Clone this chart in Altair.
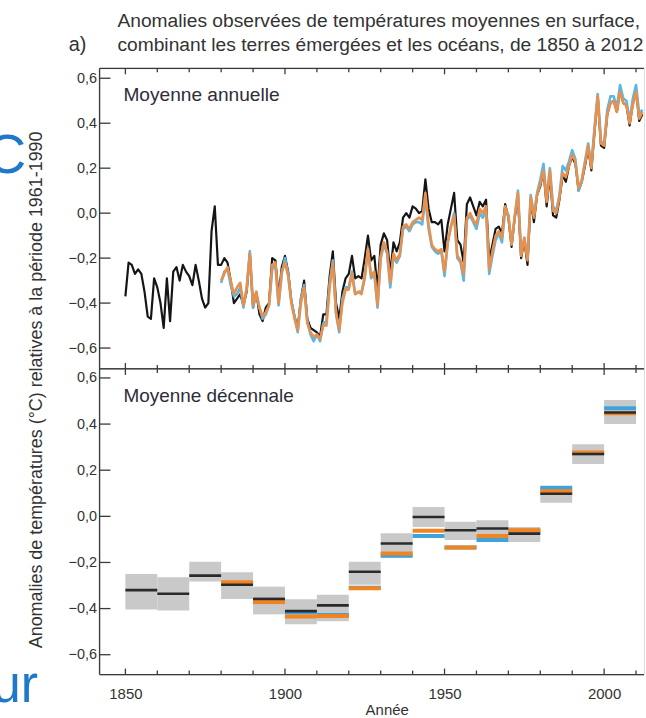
import altair as alt
import pandas as pd

# ---- annual global mean surface temperature anomalies (°C, relative to 1961-1990) ----
years = list(range(1850, 2013))
hadcrut4 = [
    -0.37, -0.22, -0.23, -0.27, -0.25, -0.27, -0.35, -0.46, -0.47, -0.29,
    -0.33, -0.40, -0.51, -0.29, -0.48, -0.26, -0.24, -0.30, -0.23, -0.26,
    -0.28, -0.32, -0.23, -0.30, -0.38, -0.42, -0.40, -0.08, 0.03, -0.23,
    -0.23, -0.20, -0.22, -0.30, -0.40, -0.38, -0.36, -0.41, -0.35, -0.18,
    -0.42, -0.35, -0.45, -0.48, -0.42, -0.40, -0.20, -0.21, -0.37, -0.24,
    -0.19, -0.26, -0.39, -0.46, -0.51, -0.38, -0.30, -0.47, -0.51, -0.52,
    -0.53, -0.55, -0.45, -0.45, -0.28, -0.17, -0.40, -0.47, -0.35, -0.29,
    -0.27, -0.19, -0.29, -0.28, -0.29, -0.20, -0.10, -0.21, -0.19, -0.34,
    -0.14, -0.09, -0.12, -0.27, -0.13, -0.17, -0.13, -0.02, 0.00, -0.02,
    0.03, 0.02, 0.00, 0.01, 0.15, 0.02, -0.04, -0.04, -0.05, -0.03,
    -0.17, -0.05, 0.02, 0.09, -0.12, -0.14, -0.22, 0.04, 0.07, 0.03,
    -0.01, 0.05, 0.03, 0.06, -0.21, -0.14, -0.07, -0.06, -0.09, 0.04,
    -0.02, -0.15, -0.02, 0.07, -0.20, -0.12, -0.23, 0.06, -0.04, 0.08,
    0.12, 0.19, 0.03, 0.17, -0.01, -0.02, 0.06, 0.17, 0.14, 0.21,
    0.25, 0.22, 0.10, 0.14, 0.21, 0.29, 0.19, 0.36, 0.52, 0.30,
    0.29, 0.44, 0.49, 0.50, 0.45, 0.55, 0.49, 0.48, 0.39, 0.49,
    0.55, 0.41, 0.44,
]

years_1880 = list(range(1880, 2013))
mlost = [
    -0.30, -0.27, -0.24, -0.30, -0.36, -0.33, -0.31, -0.41, -0.34, -0.18,
    -0.41, -0.35, -0.42, -0.46, -0.44, -0.41, -0.23, -0.22, -0.40, -0.26,
    -0.22, -0.28, -0.40, -0.47, -0.52, -0.40, -0.33, -0.49, -0.53, -0.55,
    -0.54, -0.56, -0.50, -0.50, -0.33, -0.22, -0.44, -0.52, -0.40, -0.34,
    -0.34, -0.27, -0.36, -0.35, -0.36, -0.28, -0.16, -0.28, -0.26, -0.41,
    -0.19, -0.13, -0.17, -0.31, -0.18, -0.21, -0.18, -0.06, -0.05, -0.07,
    -0.04, -0.03, -0.02, -0.03, 0.09, -0.05, -0.14, -0.16, -0.17, -0.16,
    -0.26, -0.13, -0.06, -0.01, -0.19, -0.21, -0.27, -0.02, 0.00, -0.03,
    -0.05, 0.02, 0.00, 0.03, -0.25, -0.17, -0.10, -0.08, -0.11, 0.03,
    -0.01, -0.14, -0.01, 0.09, -0.19, -0.11, -0.21, 0.07, -0.02, 0.08,
    0.13, 0.19, 0.05, 0.19, 0.01, 0.00, 0.07, 0.18, 0.16, 0.21,
    0.26, 0.23, 0.11, 0.15, 0.22, 0.30, 0.20, 0.37, 0.52, 0.31,
    0.30, 0.44, 0.49, 0.50, 0.45, 0.54, 0.49, 0.48, 0.40, 0.48,
    0.54, 0.42, 0.45,
]
gistemp = [
    -0.31, -0.26, -0.25, -0.32, -0.37, -0.36, -0.33, -0.42, -0.33, -0.17,
    -0.42, -0.36, -0.42, -0.47, -0.45, -0.41, -0.25, -0.23, -0.41, -0.27,
    -0.20, -0.27, -0.39, -0.46, -0.53, -0.38, -0.32, -0.48, -0.54, -0.57,
    -0.54, -0.57, -0.49, -0.48, -0.31, -0.21, -0.45, -0.53, -0.38, -0.33,
    -0.33, -0.26, -0.36, -0.35, -0.35, -0.29, -0.16, -0.29, -0.27, -0.42,
    -0.20, -0.14, -0.18, -0.33, -0.19, -0.22, -0.19, -0.07, -0.06, -0.08,
    -0.05, -0.04, -0.04, -0.05, 0.07, -0.07, -0.15, -0.17, -0.18, -0.17,
    -0.28, -0.13, -0.06, 0.00, -0.20, -0.22, -0.30, -0.03, -0.01, -0.04,
    -0.07, 0.00, -0.02, 0.01, -0.27, -0.19, -0.12, -0.09, -0.13, 0.02,
    -0.01, -0.14, -0.02, 0.10, -0.18, -0.11, -0.20, 0.08, -0.01, 0.09,
    0.15, 0.22, 0.06, 0.20, 0.03, 0.01, 0.08, 0.21, 0.19, 0.23,
    0.28, 0.24, 0.10, 0.14, 0.23, 0.31, 0.21, 0.38, 0.53, 0.32,
    0.31, 0.46, 0.52, 0.52, 0.47, 0.57, 0.51, 0.50, 0.41, 0.51,
    0.57, 0.44, 0.46,
]

# ---- decadal means, with the HadCRUT4 uncertainty range ----
decades = list(range(1850, 2010, 10))
dec_hadcrut4 = [-0.320, -0.336, -0.257, -0.297, -0.358, -0.411, -0.386, -0.240,
                -0.118, -0.003, -0.060, -0.053, -0.075, 0.098, 0.270, 0.450]
dec_low = [-0.404, -0.408, -0.283, -0.358, -0.425, -0.468, -0.455, -0.297,
           -0.178, -0.046, -0.103, -0.103, -0.111, 0.059, 0.227, 0.400]
dec_high = [-0.250, -0.264, -0.197, -0.243, -0.305, -0.360, -0.340, -0.197,
            -0.073, 0.040, -0.024, -0.017, -0.046, 0.126, 0.313, 0.504]
decades_1880 = list(range(1880, 2010, 10))
dec_mlost = [-0.286, -0.372, -0.434, -0.432, -0.312, -0.161, -0.063, -0.135,
             -0.085, -0.060, 0.109, 0.277, 0.447]
dec_gistemp = [-0.290, -0.368, -0.416, -0.428, -0.310, -0.171, -0.085, -0.135,
               -0.103, -0.062, 0.124, 0.274, 0.469]

major_years = [1850, 1900, 1950, 2000]
minor_years = [1860, 1870, 1880, 1890, 1910, 1920, 1930, 1940,
               1960, 1970, 1980, 1990, 2010]
y_ticks = [-0.6, -0.4, -0.2, 0.0, 0.2, 0.4, 0.6]

title_lines = ["Anomalies observées de températures moyennes en surface,",
               "combinant les terres émergées et les océans, de 1850 à 2012"]
panel_tag = "a)"
y_title = "Anomalies de températures (°C) relatives à la période 1961-1990"
x_title = "Année"
top_label = "Moyenne annuelle"
bottom_label = "Moyenne décennale"

# ---- styling ----
FONT = "Liberation Sans"
AXIS = "#3a3a3a"
TEXT = "#333333"
LABEL = "#2d2d3a"
SLIDE_BLUE = "#1f78c8"
BLACK = "#151515"
ORANGE = "#e8904c"
BLUE = "#5cb6e6"
DEC_ORANGE = "#f2841f"
DEC_BLUE = "#3ea3dc"
DEC_BLACK = "#2a2a2a"
GREY = "#c9c9c9"

W, H_TOP, H_BOT = 547, 302, 307
x_scale = alt.Scale(domain=[1841.9, 2012.5], nice=False, zero=False)
y_top = alt.Scale(domain=[-0.693, 0.644], nice=False, zero=False)
y_bot = alt.Scale(domain=[-0.686, 0.639], nice=False, zero=False)

y_axis = alt.Axis(values=y_ticks, labelExpr="replace(format(datum.value, '.1f'), '.', ',')",
                  domain=False, ticks=False, tickSize=0, grid=False, labelPadding=3,
                  labelFontSize=14.5, labelColor=TEXT, labelFont=FONT, title=None)
x_axis_bottom = alt.Axis(values=major_years, format="d", domain=False, ticks=False,
                         tickSize=0, grid=False, labelPadding=12, labelFontSize=15,
                         labelColor=TEXT, labelFont=FONT, title=None)

one = pd.DataFrame({"k": [0]})


def text(s, x, y, size, color=TEXT, align="left", baseline="alphabetic", angle=0):
    return alt.Chart(pd.DataFrame({"t": [s]})).mark_text(
        align=align, baseline=baseline, fontSize=size, font=FONT, color=color, angle=angle
    ).encode(x=alt.value(x), y=alt.value(y), text="t:N")


def frame_layers(height, ys, x_axis):
    rule = dict(color=AXIS, strokeWidth=1.3)
    layers = [
        alt.Chart(one).mark_rule(**rule).encode(x=alt.value(0), y=alt.value(0), y2=alt.value(height)),
        alt.Chart(one).mark_rule(**rule).encode(x=alt.value(0), x2=alt.value(W), y=alt.value(0)),
        alt.Chart(one).mark_rule(**rule).encode(x=alt.value(0), x2=alt.value(W), y=alt.value(height)),
        alt.Chart(pd.DataFrame({"v": y_ticks})).mark_rule(**rule).encode(
            y=alt.Y("v:Q", scale=ys, axis=y_axis), x=alt.value(0), x2=alt.value(11)),
    ]
    # inward ticks along the top and bottom edges
    for yrs, length in ((major_years, 6), (minor_years, 4)):
        df = pd.DataFrame({"year": yrs})
        for y0, y1 in ((0, length), (height, height - length)):
            layers.append(alt.Chart(df).mark_rule(**rule).encode(
                x=alt.X("year:Q", scale=x_scale, axis=x_axis),
                y=alt.value(y0), y2=alt.value(y1)))
    return layers


def annual_line(yrs, vals, color, width):
    return alt.Chart(pd.DataFrame({"year": yrs, "value": vals})).mark_line(
        color=color, strokeWidth=width, strokeJoin="round"
    ).encode(x=alt.X("year:Q", scale=x_scale, axis=None),
             y=alt.Y("value:Q", scale=y_top, axis=y_axis))


# ---- top panel: annual means ----
top = alt.layer(
    annual_line(years, hadcrut4, BLACK, 2.2),
    annual_line(years_1880, gistemp, BLUE, 2.6),
    annual_line(years_1880, mlost, ORANGE, 2.6),
    *frame_layers(H_TOP, y_top, None),
    text(top_label, 24, 32.5, 19.2, LABEL),
    text(panel_tag, -31, -17, 20, TEXT),
    text(title_lines[0], 18, -42, 19.3, TEXT),
    text(title_lines[1], 18, -17, 19.3, TEXT),
    text(y_title, -63, 323, 18, TEXT, align="center", baseline="middle", angle=270),
    text("C", -114, 105, 56, SLIDE_BLUE),
).properties(width=W, height=H_TOP)

# ---- bottom panel: decadal means ----
dec_df = pd.DataFrame({"start": decades, "end": [d + 10 for d in decades],
                       "value": dec_hadcrut4, "low": dec_low, "high": dec_high})
dec_ext = pd.DataFrame({"start": decades_1880, "end": [d + 10 for d in decades_1880],
                        "mlost": dec_mlost, "gistemp": dec_gistemp})

boxes = alt.Chart(dec_df).mark_rect(color=GREY).encode(
    x=alt.X("start:Q", scale=x_scale, axis=x_axis_bottom), x2="end:Q",
    y=alt.Y("low:Q", scale=y_bot, axis=y_axis), y2="high:Q")


def dec_rule(df, field, color, width):
    return alt.Chart(df).mark_rule(color=color, strokeWidth=width).encode(
        x=alt.X("start:Q", scale=x_scale, axis=x_axis_bottom), x2="end:Q",
        y=alt.Y(f"{field}:Q", scale=y_bot, axis=y_axis))


bottom = alt.layer(
    boxes,
    dec_rule(dec_ext, "gistemp", DEC_BLUE, 4),
    dec_rule(dec_ext, "mlost", DEC_ORANGE, 4),
    dec_rule(dec_df, "value", DEC_BLACK, 2.6),
    *frame_layers(H_BOT, y_bot, x_axis_bottom),
    text(bottom_label, 24, 32.7, 19, LABEL),
    text(x_title, 289, 348, 15, TEXT, align="center"),
    text("ur", -108, 335, 52, SLIDE_BLUE),
).properties(width=W, height=H_BOT)

chart = alt.vconcat(top, bottom, spacing=0, bounds="flush").properties(
    padding={"left": -15, "top": 9, "right": 0, "bottom": 0}
).configure_view(stroke=None).configure(font=FONT)

chart.save("out.html", embed_options={"renderer": "svg", "actions": False})
